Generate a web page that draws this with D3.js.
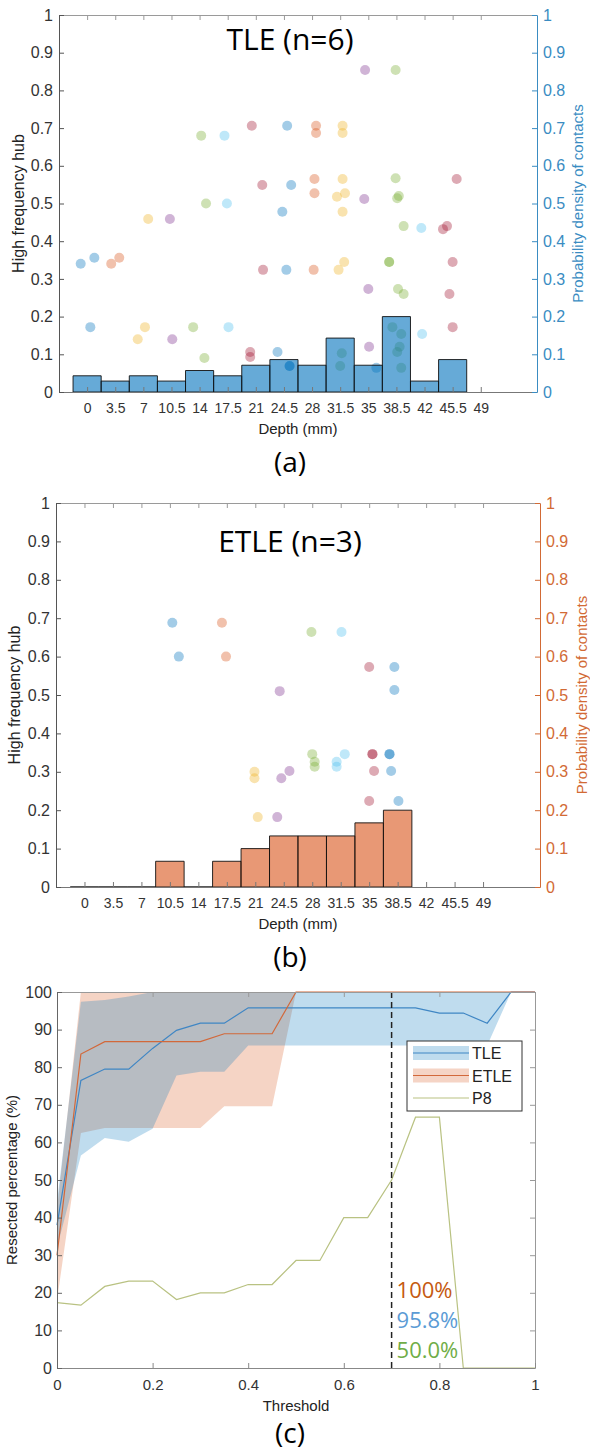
<!DOCTYPE html>
<html>
<head>
<meta charset="utf-8">
<script src="https://cdn.jsdelivr.net/npm/d3@7/dist/d3.min.js"></script>
<style>
  body { margin: 0; background: #fff; }
  text { font-family: "Liberation Sans", Arial, sans-serif; }
</style>
</head>
<body>
<svg id="fig" width="590" height="1453"></svg>
<script>
// ---- data ----
const depthTicks = [0, 3.5, 7, 10.5, 14, 17.5, 21, 24.5, 28, 31.5, 35, 38.5, 42, 45.5, 49];
const hubTicks = [0, 0.1, 0.2, 0.3, 0.4, 0.5, 0.6, 0.7, 0.8, 0.9, 1];

// histogram of contacts (probability density), bin centres in mm
const tleBins = [0, 3.5, 7, 10.5, 14, 17.5, 21, 24.5, 28, 31.5, 35, 38.5, 42, 45.5];
const tleDensity = [0.043, 0.029, 0.043, 0.029, 0.057, 0.043, 0.071, 0.086, 0.071, 0.143, 0.071, 0.2, 0.029, 0.086];
const etleBins = [0, 3.5, 7, 10.5, 14, 17.5, 21, 24.5, 28, 31.5, 35, 38.5];
const etleDensity = [0, 0, 0, 0.067, 0, 0.067, 0.1, 0.133, 0.133, 0.133, 0.167, 0.2];

const patientColors = {B: "#0072bd", C: "#4dbeee", O: "#d95319", Y: "#edb120", P: "#7e2f8e", G: "#77ac30", R: "#a2142f"};

// [depth, hub value, patient]
const tleHubs = [
  [-0.8, 0.34, "B"], [0.9, 0.356, "B"], [0.4, 0.172, "B"], [24.9, 0.706, "B"], [25.4, 0.549, "B"], [24.3, 0.478, "B"],
  [24.8, 0.324, "B"], [23.7, 0.106, "B"], [25.2, 0.069, "B"], [25.2, 0.069, "B"], [36, 0.064, "B"],
  [3.0, 0.34, "O"], [4.0, 0.356, "O"], [28.5, 0.706, "O"], [28.5, 0.687, "O"], [28.3, 0.565, "O"], [28.3, 0.527, "O"], [28.2, 0.324, "O"],
  [7.6, 0.459, "Y"], [7.2, 0.172, "Y"], [6.3, 0.14, "Y"], [31.8, 0.706, "Y"], [31.8, 0.687, "Y"], [31.8, 0.565, "Y"],
  [31.1, 0.518, "Y"], [32.1, 0.527, "Y"], [31.8, 0.478, "Y"], [31.3, 0.324, "Y"], [32, 0.345, "Y"],
  [10.3, 0.459, "P"], [10.6, 0.14, "P"], [34.6, 0.854, "P"], [34.5, 0.512, "P"], [35, 0.273, "P"], [35.1, 0.12, "P"],
  [14.2, 0.68, "G"], [14.8, 0.5, "G"], [13.2, 0.172, "G"], [14.6, 0.09, "G"], [38.4, 0.854, "G"], [38.4, 0.567, "G"],
  [38.6, 0.514, "G"], [38.8, 0.52, "G"], [39.4, 0.44, "G"], [37.6, 0.345, "G"], [37.6, 0.345, "G"], [38.7, 0.273, "G"],
  [39.4, 0.26, "G"], [38, 0.172, "G"], [39.1, 0.154, "G"], [38.9, 0.12, "G"], [38.6, 0.106, "G"], [39.1, 0.064, "G"],
  [31.7, 0.103, "G"], [31.5, 0.069, "G"],
  [17.1, 0.68, "C"], [17.4, 0.5, "C"], [17.6, 0.172, "C"], [41.6, 0.435, "C"], [41.7, 0.154, "C"],
  [20.5, 0.706, "R"], [21.8, 0.549, "R"], [21.9, 0.324, "R"], [20.3, 0.106, "R"], [20.3, 0.093, "R"], [46, 0.565, "R"],
  [44.8, 0.44, "R"], [44.3, 0.432, "R"], [45.5, 0.345, "R"], [45.1, 0.26, "R"], [45.5, 0.172, "R"]
];
const etleHubs = [
  [10.8, 0.688, "B"], [11.6, 0.6, "B"], [38.1, 0.573, "B"], [38.1, 0.513, "B"], [37.5, 0.346, "B"], [37.5, 0.346, "B"],
  [37.7, 0.302, "B"], [38.6, 0.224, "B"],
  [16.9, 0.688, "O"], [17.4, 0.6, "O"],
  [20.9, 0.3, "Y"], [20.9, 0.283, "Y"], [21.3, 0.182, "Y"],
  [24, 0.51, "P"], [24.2, 0.283, "P"], [25.2, 0.302, "P"], [23.7, 0.182, "P"],
  [27.9, 0.664, "G"], [28, 0.346, "G"], [28.3, 0.326, "G"], [28.3, 0.313, "G"],
  [31.6, 0.664, "C"], [32, 0.346, "C"], [31, 0.326, "C"], [31, 0.313, "C"],
  [35, 0.573, "R"], [35.4, 0.346, "R"], [35.4, 0.346, "R"], [35.6, 0.302, "R"], [35, 0.224, "R"]
];

// panel (c): resected percentage vs threshold
const thresholds = [0, 0.05, 0.1, 0.15, 0.2, 0.25, 0.3, 0.35, 0.4, 0.45, 0.5, 0.55, 0.6, 0.65, 0.7, 0.75, 0.8, 0.85, 0.9, 0.95, 1];
const tleMean = [38, 76.5, 79.5, 79.5, 85, 89.8, 91.7, 91.7, 95.8, 95.8, 95.8, 95.8, 95.8, 95.8, 95.8, 95.8, 94.4, 94.4, 91.7, 100, 100];
const tleLow  = [32, 56.5, 61.2, 60.2, 63.6, 77.8, 78.8, 78.8, 85.8, 85.8, 85.8, 85.8, 85.8, 85.8, 85.8, 85.8, 85.8, 85.8, 85.8, 100, 100];
const tleHigh = [44, 97.4, 97.9, 98.8, 100, 100, 100, 100, 100, 100, 100, 100, 100, 100, 100, 100, 100, 100, 100, 100, 100];
const etleMean = [30, 83.5, 86.8, 86.8, 86.8, 86.8, 86.8, 88.9, 88.9, 88.9, 100, 100, 100, 100, 100, 100, 100, 100, 100, 100, 100];
const etleLow  = [18, 62.5, 63.8, 63.8, 63.8, 63.8, 63.8, 69.6, 69.6, 69.6, 100, 100, 100, 100, 100, 100, 100, 100, 100, 100, 100];
const etleHigh = [42, 100, 100, 100, 100, 100, 100, 100, 100, 100, 100, 100, 100, 100, 100, 100, 100, 100, 100, 100, 100];
const p8 = [17.4, 16.7, 21.7, 23.1, 23.1, 18.2, 20, 20, 22.2, 22.2, 28.6, 28.6, 40, 40, 50, 66.7, 66.7, 0, 0, 0, 0];
const pctTicks = [0, 10, 20, 30, 40, 50, 60, 70, 80, 90, 100];
const thrTicks = [0, 0.2, 0.4, 0.6, 0.8, 1];

// ---- drawing ----
const svg = d3.select("#fig");
const tickFmt = d3.format("~g");

function styleAxis(sel, color, fontSize) {
  sel.select(".domain").attr("stroke", color);
  sel.selectAll(".tick line").attr("stroke", color);
  sel.selectAll(".tick text").attr("font-size", fontSize).attr("font-family", "Liberation Sans, Arial, sans-serif");
}

function depthPanel(p) {
  const x = d3.scaleLinear().domain([-3.5, 56]).range([p.left, p.right]);
  const y = d3.scaleLinear().domain([0, 1]).range([p.bottom, p.top]);
  const g = svg.append("g");

  // scatter of high frequency hubs
  g.append("g").selectAll("circle")
    .data(p.points)
    .join("circle")
      .attr("cx", d => x(d[0]))
      .attr("cy", d => y(d[1]))
      .attr("r", 5)
      .attr("fill", d => patientColors[d[2]])
      .attr("fill-opacity", 0.36);

  // histogram bars (drawn as paths so empty bins still show an outline)
  g.append("g").selectAll("path")
    .data(p.bins)
    .join("path")
      .attr("d", (d, i) => {
        const x0 = x(d - 1.75), x1 = x(d + 1.75), yb = y(0), yt = y(p.density[i]);
        return "M" + x0 + "," + yb + "V" + yt + "H" + x1 + "V" + yb + "Z";
      })
      .attr("fill", p.barColor)
      .attr("fill-opacity", 0.6)
      .attr("stroke", "#111")
      .attr("stroke-width", 0.9);

  // axes
  const top = g.append("g").attr("transform", "translate(0," + p.top + ")")
    .call(d3.axisTop(x).tickValues(depthTicks).tickSizeInner(-5).tickSizeOuter(0).tickFormat(""));
  styleAxis(top, "#9a9a9a", 14);

  const bottom = g.append("g").attr("transform", "translate(0," + p.bottom + ")")
    .call(d3.axisBottom(x).tickValues(depthTicks).tickSizeInner(-5).tickSizeOuter(0).tickPadding(11).tickFormat(tickFmt));
  styleAxis(bottom, "#777", 14);
  bottom.selectAll(".tick text").attr("fill", "#333");

  const left = g.append("g").attr("transform", "translate(" + p.left + ",0)")
    .call(d3.axisLeft(y).tickValues(hubTicks).tickSizeInner(-5).tickSizeOuter(0).tickPadding(6).tickFormat(tickFmt));
  styleAxis(left, "#555", 16);
  left.selectAll(".tick text").attr("fill", "#333");

  const right = g.append("g").attr("transform", "translate(" + p.right + ",0)")
    .call(d3.axisRight(y).tickValues(hubTicks).tickSizeInner(-5).tickSizeOuter(0).tickPadding(6).tickFormat(tickFmt));
  styleAxis(right, p.axisColor, 16);
  right.selectAll(".tick text").attr("fill", p.axisColor);

  // labels
  const midY = (p.top + p.bottom) / 2;
  g.append("text")
    .attr("transform", "translate(" + p.yLabelX + "," + midY + ") rotate(-90)")
    .attr("text-anchor", "middle").attr("font-size", 16).attr("fill", "#222")
    .text("High frequency hub");
  g.append("text")
    .attr("transform", "translate(" + p.rLabelX + "," + midY + ") rotate(-90)")
    .attr("text-anchor", "middle").attr("font-size", 15).attr("fill", p.axisColor)
    .text("Probability density of contacts");
  g.append("text")
    .attr("x", (p.left + p.right) / 2).attr("y", p.bottom + 42)
    .attr("text-anchor", "middle").attr("font-size", 15).attr("fill", "#222")
    .text("Depth (mm)");
  g.append("text")
    .attr("x", 290).attr("y", p.titleY)
    .attr("text-anchor", "middle").attr("font-size", 30)
    .style("font-family", "'Open Sans', 'Noto Sans', sans-serif")
    .text(p.title);
  g.append("text")
    .attr("x", 290).attr("y", p.bottom + 80)
    .attr("text-anchor", "middle").attr("font-size", 28)
    .style("font-family", "'Open Sans', 'Noto Sans', sans-serif")
    .text(p.tag);
}

depthPanel({left: 59, right: 537, top: 15, bottom: 392, points: tleHubs, bins: tleBins, density: tleDensity,
  barColor: "#0072bd", axisColor: "#3a8cc2", title: "TLE (n=6)", titleY: 50, tag: "(a)", yLabelX: 24, rLabelX: 583});
depthPanel({left: 56, right: 540, top: 503, bottom: 887, points: etleHubs, bins: etleBins, density: etleDensity,
  barColor: "#d95319", axisColor: "#d26a35", title: "ETLE (n=3)", titleY: 552, tag: "(b)", yLabelX: 20, rLabelX: 587});

// ---- panel (c) ----
const cm = {left: 57, right: 535, top: 992, bottom: 1368};
const xc = d3.scaleLinear().domain([0, 1]).range([cm.left, cm.right]);
const yc = d3.scaleLinear().domain([0, 100]).range([cm.bottom, cm.top]);
const gc = svg.append("g");

const band = (lo, hi) => d3.area().x((d, i) => xc(thresholds[i])).y0((d, i) => yc(lo[i])).y1((d, i) => yc(hi[i]));
const line = vals => d3.line().x((d, i) => xc(thresholds[i])).y((d, i) => yc(vals[i]));

gc.append("path").attr("d", band(etleLow, etleHigh)(thresholds)).attr("fill", "#d95319").attr("fill-opacity", 0.25);
gc.append("path").attr("d", band(tleLow, tleHigh)(thresholds)).attr("fill", "#0072bd").attr("fill-opacity", 0.25);
gc.append("path").attr("d", line(tleMean)(thresholds)).attr("fill", "none").attr("stroke", "#3f86c4").attr("stroke-width", 1.2);
gc.append("path").attr("d", line(etleMean)(thresholds)).attr("fill", "none").attr("stroke", "#d2683a").attr("stroke-width", 1.2);
gc.append("path").attr("d", line(p8)(thresholds)).attr("fill", "none").attr("stroke", "#b9c282").attr("stroke-width", 1.2);

// threshold marker
gc.append("line")
  .attr("x1", xc(0.7)).attr("x2", xc(0.7)).attr("y1", cm.top).attr("y2", cm.bottom)
  .attr("stroke", "#222").attr("stroke-width", 1.5).attr("stroke-dasharray", "6,4");

const pctLabels = [["100%", "#c55a11", 1298], ["95.8%", "#5b9bd5", 1328], ["50.0%", "#70ad47", 1358]];
gc.selectAll(".pct").data(pctLabels).join("text")
  .attr("x", xc(0.7) + 5).attr("y", d => d[2])
  .attr("font-size", 22).attr("fill", d => d[1])
  .style("font-family", "'Open Sans', 'Noto Sans', sans-serif")
  .text(d => d[0]);

// axes (c)
const ctop = gc.append("g").attr("transform", "translate(0," + cm.top + ")")
  .call(d3.axisTop(xc).tickValues(thrTicks).tickSizeInner(-5).tickSizeOuter(0).tickFormat(""));
styleAxis(ctop, "#999", 15);
const cright = gc.append("g").attr("transform", "translate(" + cm.right + ",0)")
  .call(d3.axisRight(yc).tickValues(pctTicks).tickSizeInner(-5).tickSizeOuter(0).tickFormat(""));
styleAxis(cright, "#999", 15);
const cbottom = gc.append("g").attr("transform", "translate(0," + cm.bottom + ")")
  .call(d3.axisBottom(xc).tickValues(thrTicks).tickSizeInner(-5).tickSizeOuter(0).tickPadding(11).tickFormat(tickFmt));
styleAxis(cbottom, "#888", 15);
cbottom.selectAll(".tick text").attr("fill", "#333");
const cleft = gc.append("g").attr("transform", "translate(" + cm.left + ",0)")
  .call(d3.axisLeft(yc).tickValues(pctTicks).tickSizeInner(-5).tickSizeOuter(0).tickPadding(5).tickFormat(tickFmt));
styleAxis(cleft, "#666", 16);
cleft.selectAll(".tick text").attr("fill", "#333");

gc.append("text")
  .attr("transform", "translate(17," + (cm.top + cm.bottom) / 2 + ") rotate(-90)")
  .attr("text-anchor", "middle").attr("font-size", 15).attr("fill", "#222")
  .text("Resected percentage (%)");
gc.append("text")
  .attr("x", (cm.left + cm.right) / 2).attr("y", 1411)
  .attr("text-anchor", "middle").attr("font-size", 15).attr("fill", "#222")
  .text("Threshold");
gc.append("text")
  .attr("x", 290).attr("y", 1443)
  .attr("text-anchor", "middle").attr("font-size", 28)
  .style("font-family", "'Open Sans', 'Noto Sans', sans-serif")
  .text("(c)");

// legend
const lg = gc.append("g").attr("transform", "translate(407,1041)");
lg.append("rect").attr("width", 115).attr("height", 70).attr("fill", "#fff").attr("stroke", "#333").attr("stroke-width", 1);
const legendItems = [
  {name: "TLE", band: "#0072bd", line: "#3f86c4"},
  {name: "ETLE", band: "#d95319", line: "#d2683a"},
  {name: "P8", band: null, line: "#b9c282"}
];
legendItems.forEach((d, i) => {
  const cy = 12 + i * 22.5;
  if (d.band) {
    lg.append("rect").attr("x", 6).attr("y", cy - 7).attr("width", 56).attr("height", 14)
      .attr("fill", d.band).attr("fill-opacity", 0.25);
  }
  lg.append("line").attr("x1", 6).attr("x2", 62).attr("y1", cy).attr("y2", cy)
    .attr("stroke", d.line).attr("stroke-width", 1.2);
  lg.append("text").attr("x", 65).attr("y", cy + 6).attr("font-size", 16).attr("fill", "#222").text(d.name);
});
</script>
</body>
</html>
